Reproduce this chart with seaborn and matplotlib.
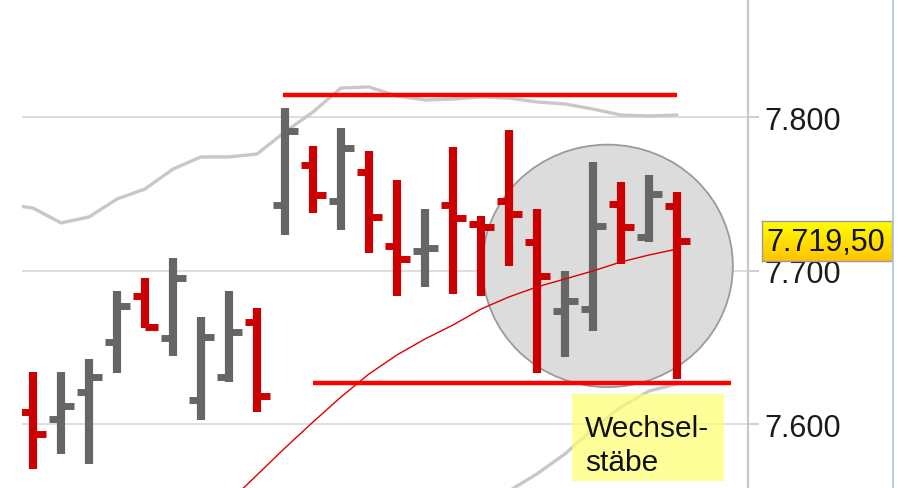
import numpy as np
import pandas as pd
import matplotlib
matplotlib.use("Agg")
import matplotlib.pyplot as plt
import seaborn as sns
from matplotlib.patches import Ellipse, Rectangle
from matplotlib.lines import Line2D
from matplotlib.colors import LinearSegmentedColormap

# ---------------- data ----------------
opens  = [7608.3, 7603.6, 7621.4, 7653.7, 7683.9, 7656.4, 7616.2, 7630.9, 7666.8,
          7743.0, 7769.1, 7745.8, 7764.7, 7716.3, 7713.0, 7743.0, 7730.6, 7745.8,
          7719.1, 7674.1, 7675.2, 7743.6, 7722.0, 7742.1]
highs  = [7634.4, 7634.4, 7642.7, 7687.2, 7695.4, 7708.5, 7670.0, 7687.2, 7675.9,
          7806.2, 7781.6, 7793.2, 7778.4, 7759.5, 7740.4, 7780.6, 7735.6, 7791.9,
          7740.4, 7700.2, 7770.8, 7757.8, 7762.5, 7751.7]
lows   = [7571.0, 7580.8, 7574.3, 7633.6, 7662.9, 7644.6, 7602.9, 7627.7, 7608.1,
          7723.5, 7737.8, 7726.9, 7711.7, 7683.5, 7689.4, 7685.0, 7683.5, 7703.1,
          7633.6, 7643.8, 7661.1, 7704.6, 7719.1, 7629.6]
closes = [7593.8, 7612.1, 7630.9, 7677.4, 7663.7, 7695.4, 7657.0, 7660.3, 7618.8,
          7791.4, 7749.5, 7779.9, 7735.0, 7708.1, 7714.8, 7734.3, 7728.5, 7736.8,
          7696.9, 7680.7, 7729.1, 7728.9, 7750.2, 7719.5]

ma_start = 7
ma_values = [7549.5, 7567.1, 7584.7, 7601.6, 7617.9, 7632.9, 7645.3, 7655.7, 7664.8,
             7675.2, 7683.1, 7689.6, 7694.8, 7700.0, 7705.9, 7710.4, 7714.3]
upper_start = -1
upper_band = [7743.6, 7741.0, 7731.3, 7735.2, 7746.9, 7753.4, 7766.4, 7774.3, 7774.3,
              7776.2, 7790.6, 7803.6, 7819.2, 7819.9, 7814.0, 7811.4, 7812.0, 7813.4,
              7812.7, 7810.1, 7808.8, 7805.5, 7801.6, 7801.0, 7801.6]
lower_start = 16
lower_band = [7544.3, 7556.7, 7567.8, 7580.8, 7597.1, 7611.4, 7621.8, 7626.4]

resistance = 7814.7
support = 7627.0
last_price = 7719.5
y_ticks = [7600, 7700, 7800]
tick_labels = ["7.600", "7.700", "7.800"]
price_label = "7.719,50"
note_lines = ["Wechsel-", "stäbe"]

# ---------------- style ----------------
sns.set_theme(style="white")
plt.rcParams['font.family'] = ['Liberation Sans', 'DejaVu Sans']

RED = "#cc0000"
GRAY = "#666666"

W, H = 898, 489
fig = plt.figure(figsize=(W / 100, H / 100), dpi=100)
fig.patch.set_facecolor("white")
ax = fig.add_axes([22 / W, 0, (748 - 22) / W, 1])
ax.set_facecolor("white")

idx = np.arange(len(opens))
o = np.array(opens); h = np.array(highs); l = np.array(lows); c = np.array(closes)
cols = [GRAY if cc >= oo else RED for oo, cc in zip(o, c)]

# grid
for yt in y_ticks:
    ax.axhline(yt, color="#dedede", lw=1.4, zorder=0.5)

# bands and MA
up_df = pd.DataFrame({"x": np.arange(upper_start, upper_start + len(upper_band)), "y": upper_band})
lo_df = pd.DataFrame({"x": np.arange(lower_start, lower_start + len(lower_band)), "y": lower_band})
ma_df = pd.DataFrame({"x": np.arange(ma_start, ma_start + len(ma_values)), "y": ma_values})

sns.lineplot(data=up_df, x="x", y="y", ax=ax, color="#c8c8c8", lw=2.4, zorder=1)
sns.lineplot(data=lo_df, x="x", y="y", ax=ax, color="#c8c8c8", lw=2.4, zorder=0.8)

# highlight circle
circ = Ellipse((20.52, 7703.3), width=8.95, height=158, facecolor="#dcdcdc",
               edgecolor="#9a9a9a", lw=1.3, zorder=1.2)
ax.add_patch(circ)

# OHLC bars
vl = ax.vlines(idx, l, h, colors=cols, lw=5.9, zorder=3)
vl.set_capstyle("butt")
hl1 = ax.hlines(o, idx - 0.43, idx, colors=cols, lw=5.0, zorder=3)
hl2 = ax.hlines(c, idx, idx + 0.47, colors=cols, lw=5.0, zorder=3)
hl1.set_capstyle("butt"); hl2.set_capstyle("butt")

# moving average
sns.lineplot(data=ma_df, x="x", y="y", ax=ax, color="#dd0000", lw=1.0, zorder=4)

# support / resistance
ax.hlines(resistance, 8.93, 23.0, color="#ff0000", lw=3.2, zorder=4)
ax.hlines(support, 10.0, 24.93, color="#ff0000", lw=3.2, zorder=4)

# axes setup
ax.set_xlim(-0.393, 25.536)
ax.set_ylim(7558.6, 7877.2)
ax.set_xlabel(""); ax.set_ylabel("")
ax.set_xticks([])
ax.yaxis.tick_right()
ax.set_yticks(y_ticks, tick_labels)
ax.tick_params(axis="y", length=8, width=1.2, color="#c8c8c8", pad=4,
               labelsize=22, labelcolor="#1a1a1a", right=True, left=False)
for s in ["left", "top", "bottom"]:
    ax.spines[s].set_visible(False)
ax.spines["right"].set_color("#c8c8c8")
ax.spines["right"].set_linewidth(1.6)

# right edge line
fig.add_artist(Line2D([892.5 / W, 892.5 / W], [0, 1], color="#a9c4e4", lw=1.2))

# price label with gradient
bx = fig.add_axes([762 / W, (H - 262) / H, 130 / W, 40 / H])
grad = np.linspace(0, 1, 50).reshape(-1, 1)
cmap = LinearSegmentedColormap.from_list("yel", ["#ffff00", "#ffc400"])
bx.imshow(grad, aspect="auto", cmap=cmap, extent=[0, 1, 0, 1], origin="upper")
bx.set_xlim(0, 1); bx.set_ylim(0, 1)
bx.set_xticks([]); bx.set_yticks([])
for s in bx.spines.values():
    s.set_color("#9a9a9a"); s.set_linewidth(1.0)
bx.text(0.03, 0.48, price_label, fontsize=22, color="#111111", va="center", ha="left",
        transform=bx.transAxes)

# note box
fig.add_artist(Rectangle((572 / W, (H - 482) / H), 152 / W, 87 / H,
                         transform=fig.transFigure, facecolor="#ffff70", alpha=0.7,
                         edgecolor="none", zorder=5))
fig.text(585 / W, (H - 436.7) / H, note_lines[0], fontsize=21.5, color="#111111",
         va="baseline", ha="left", zorder=6)
fig.text(585 / W, (H - 470.7) / H, note_lines[1], fontsize=21.5, color="#111111",
         va="baseline", ha="left", zorder=6)

fig.savefig("out.png", dpi=100, facecolor="white")
